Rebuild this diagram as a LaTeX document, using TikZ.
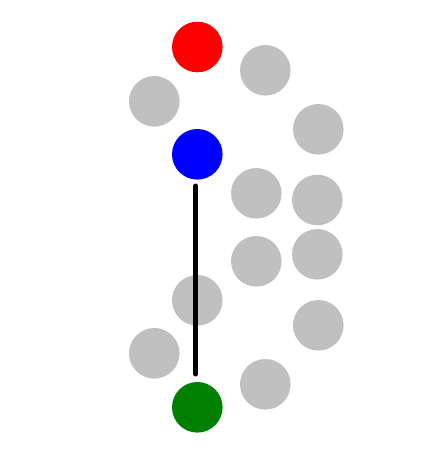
\documentclass[tikz,border=0pt]{standalone}
\usepackage{tikz}
\definecolor{dotgray}{RGB}{192,192,192}
\definecolor{dotgreen}{RGB}{0,128,0}

\begin{document}
\begin{tikzpicture}[x=1pt, y=-1pt, thick,
    dot/.style={circle, inner sep=0pt, minimum size=50.6pt, fill=dotgray},
    link/.style={line width=4.6pt, line cap=round}]
            \useasboundingbox (0, 0) rectangle (421, 476);

            \node[dot] (g1) at (265.3, 70.3) {};
            \node[dot] (g2) at (154.3, 101.3) {};
            \node[dot] (g3) at (318.3, 129.3) {};
            \node[dot] (g4) at (256.3, 193.3) {};
            \node[dot] (g5) at (317.3, 200) {};
            \node[dot] (g6) at (317.3, 254.3) {};
            \node[dot] (g7) at (256.3, 261.3) {};
            \node[dot] (g8) at (197.3, 300.3) {};
            \node[dot] (g9) at (318.3, 325.3) {};
            \node[dot] (g10) at (154.3, 353.3) {};
            \node[dot] (g11) at (265.3, 384.3) {};

            \node[dot, fill=red] (R) at (197.3, 47) {};
            \node[dot, fill=blue] (B) at (197.3, 154.3) {};
            \node[dot, fill=dotgreen] (G) at (197.3, 407.3) {};

            \draw[link, shorten <=5.8pt, shorten >=7.4pt]
                ([xshift=-1.6pt]B.south) -- ([xshift=-1.6pt]G.north);
         \end{tikzpicture}
\end{document}
